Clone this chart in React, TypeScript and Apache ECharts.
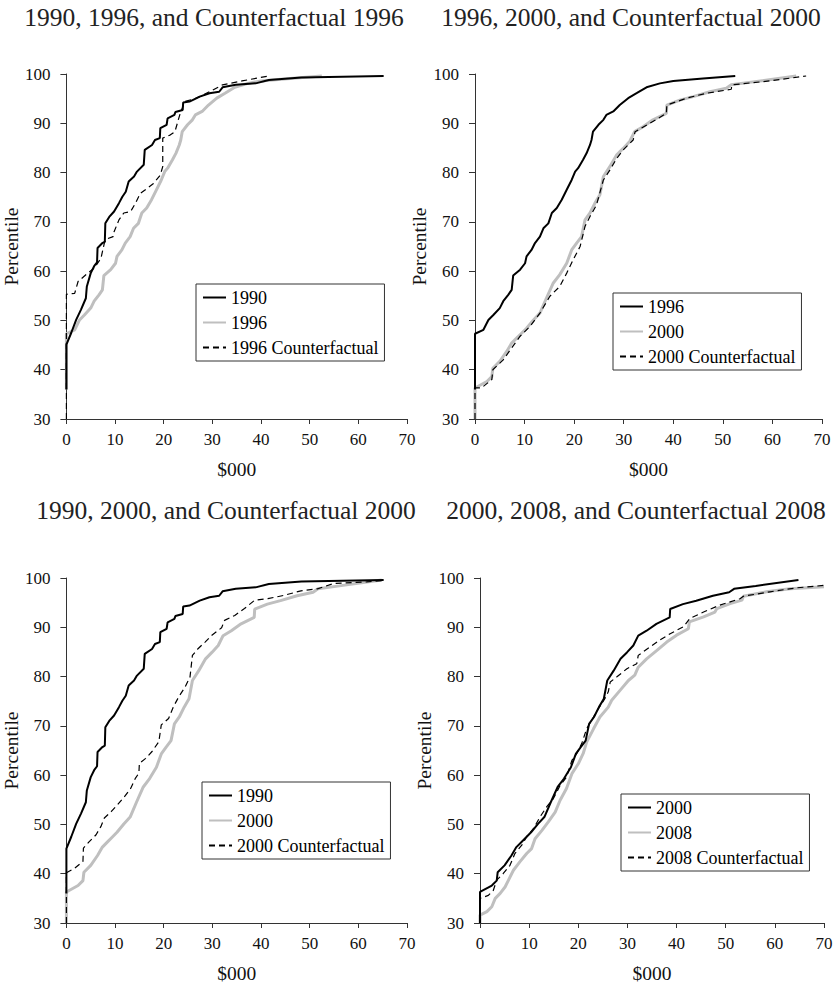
import React, { useEffect, useRef } from 'react';
import * as echarts from 'echarts';

const FONT = 'Liberation Serif';

const titles = [
  '1990, 1996, and Counterfactual 1996',
  '1996, 2000, and Counterfactual 2000',
  '1990, 2000, and Counterfactual 2000',
  '2000, 2008, and Counterfactual 2008',
];

const xTitle = '$000';
const yTitle = 'Percentile';

const y1990: number[][] = [[0,36],[0,45.1],[1,47.5],[2,50.1],[3,52.2],[4,54.5],[4.2,56.9],[5,59.6],[5.7,61],[6.3,61.8],[6.4,64.7],[7.4,65.7],[7.9,66],[8,69.7],[8.8,71],[9.8,72.1],[10.8,73.8],[11.5,75.1],[12.2,76.1],[12.8,78.2],[13.9,79.2],[14.5,80.2],[15.9,81.6],[16.1,84.6],[17.6,85.6],[18.2,86.6],[19.2,87],[19.3,89],[20.6,89.7],[20.8,91],[22.2,91.7],[22.4,92.3],[23.9,92.7],[24,94.2],[25.3,94.4],[27.4,95.4],[29.4,96.1],[31.4,96.4],[32.1,97.3],[34.8,97.8],[38.9,98.1],[41.6,98.8],[48.3,99.3],[65.2,99.6]];

const y1996: number[][] = [[0,36],[0,47.3],[1.7,48.1],[2.7,50.1],[3.7,51.1],[5,52.5],[5.7,53.9],[6.7,55.2],[7.4,56.2],[7.7,59.1],[9.1,60.3],[10.1,61.6],[10.4,63],[11.4,64.3],[12.1,65.7],[13.1,67],[13.8,68.7],[14.8,69.7],[15.5,71.8],[16.5,72.8],[17.5,74.5],[18.5,76.5],[19.5,78.5],[20.2,80.2],[20.8,80.9],[21.8,82.6],[22.5,83.9],[23.2,85.6],[23.5,86.6],[23.8,88.3],[24.9,89.7],[25.9,90.7],[26.5,91.7],[27.9,92.4],[29.2,93.7],[30.9,95.1],[32.6,96.1],[34.6,97.3],[37.3,98.1],[40,98.6],[46,99.1],[52.5,99.6]];

const y2000: number[][] = [[0,30],[0,36.3],[2.4,37.6],[3.4,38.6],[3.6,40.3],[5,41.7],[6.4,43.7],[7.4,45.4],[8.4,46.4],[9.4,47.4],[10.4,48.4],[11.8,50.1],[13.1,51.5],[14.4,54.5],[15.8,57.6],[17.1,59.3],[18.5,61.6],[19.5,64.3],[20.5,65.7],[21.5,67],[22.2,70.4],[23.2,71.8],[24.2,73.8],[25.2,75.5],[25.9,79.2],[27.2,81.2],[28.6,83.6],[29.9,84.9],[31.2,86.3],[32.2,88.3],[33.9,89.3],[35.9,90.7],[38.6,92],[38.7,93.7],[41.3,94.7],[44,95.4],[47.4,96.4],[50.7,97.1],[51.7,97.8],[56.1,98.4],[64.8,99.6]];

const y2008: number[][] = [[0,30],[0,31.6],[1.4,32.3],[2.4,33.3],[3.1,35],[4.1,36],[5.1,37.3],[5.8,38.7],[6.8,40.7],[8.1,42.4],[9.5,44.1],[10.5,45.1],[11.2,47.1],[12.6,48.8],[13.9,50.5],[15.3,52.5],[16.3,54.9],[17.6,57.3],[18.7,60.3],[20,62.3],[21,64.4],[21.7,66.7],[23.1,69.4],[24.4,71.8],[26.1,73.8],[26.8,75.2],[28.5,77.2],[30.2,79.2],[31.5,80.3],[32.2,81.9],[33.9,83.6],[36,85.3],[38,87],[40,88.4],[42.4,89.7],[42.6,91.1],[45.5,92.1],[47.8,93.1],[48.2,93.8],[50.9,94.8],[53.3,95.5],[53.6,96.3],[58.3,97.2],[63.1,97.8],[70,98.2]];

const cf1996: number[][] = [[0,30],[0,55.3],[1.7,55.5],[2.4,57.9],[4.4,59.6],[5.7,60.6],[7.1,62.6],[7.8,65.7],[8.2,66.5],[9.6,67],[9.8,68],[10.8,70.4],[11.8,71.8],[13.2,72.1],[14.2,73.8],[15.2,75.8],[16.6,76.8],[17.9,77.8],[19.3,79.5],[19.8,81.2],[19.8,87],[21.3,87.6],[22.3,88.3],[23.3,91.7],[24.3,94.4],[26.7,95.1],[29.4,96.4],[32.1,97.8],[36.1,98.6],[41.6,99.6]];

const cf2000a: number[][] = [[0,30],[0,36.3],[1.3,36.3],[3.4,38],[3.6,40],[5.7,42],[7.1,44],[9.1,46.8],[11.1,48.8],[13.1,51.5],[15.1,54.9],[17.1,56.9],[18.5,59.6],[19.8,62.3],[21.2,65],[22.2,69.1],[23.2,71.1],[24.5,73.4],[25.9,78.5],[27.2,80.5],[28.6,82.9],[29.9,84.6],[31.9,86.6],[32.3,88.3],[35.3,90],[38.6,92],[38.7,93.7],[42.7,95.1],[46.7,96.1],[51.7,96.9],[51.8,97.8],[59.5,98.6],[66.8,99.6]];

const cf2000b: number[][] = [[0,30],[0,40.2],[1.7,41.1],[3.4,42.5],[3.5,45.2],[4.7,46.5],[6.1,47.9],[7.1,49.6],[7.8,51.3],[9.2,52.6],[10.5,54],[11.9,55.6],[13.2,57.3],[14.2,59.4],[14.9,60.4],[15,62.4],[16.3,63.4],[17.6,64.8],[19,66.8],[19.5,70.2],[21,71.5],[22,73.9],[23.1,75.9],[24.4,77.9],[25.4,79.9],[25.9,84.3],[27.1,85.7],[28.5,87],[29.9,88.4],[31.9,89.9],[32.5,91.4],[34.6,92.4],[36.6,93.8],[38.7,95.5],[41.4,95.8],[44.8,96.5],[48.2,97.4],[51.6,97.8],[55,98.9],[61.7,99.2],[65.1,99.5]];

const cf2008: number[][] = [[0,30],[0,35],[1.7,35.6],[2.7,36.6],[3.4,38.7],[4.7,40],[6.1,41.7],[7.1,44.1],[8.5,45.8],[9.5,47.5],[10.9,49.2],[12.2,51.5],[13.6,53.6],[14.9,55.2],[16.3,57.9],[17.6,59.6],[18.7,63],[19.7,64.4],[20.7,66.4],[21.7,69.4],[22.7,71.1],[24.1,73.5],[25.4,75.5],[26.1,76.9],[26.5,78.9],[27.8,79.9],[29.9,81.6],[31.9,82.6],[32.2,84.3],[34.6,86],[36.6,87.4],[38.7,88.7],[41.4,90.1],[42.7,91.8],[45.5,93.1],[48.8,94.5],[52.9,95.8],[53.6,96.3],[59,97.2],[64.4,98],[70,98.5]];

type Kind = 'black' | 'gray' | 'dash';

const panels = [
  {
    title: titles[0], tx: 214, ty: 17,
    grid: { left: 62, top: 74, width: 345, height: 345 },
    legendPos: { left: 196, top: 284 },
    lines: [
      { label: '1990', data: y1990, kind: 'black' as Kind },
      { label: '1996', data: y1996, kind: 'gray' as Kind },
      { label: '1996 Counterfactual', data: cf1996, kind: 'dash' as Kind },
    ],
  },
  {
    title: titles[1], tx: 631, ty: 17,
    grid: { left: 475, top: 74, width: 347, height: 345 },
    legendPos: { left: 613, top: 293 },
    lines: [
      { label: '1996', data: y1996, kind: 'black' as Kind },
      { label: '2000', data: y2000, kind: 'gray' as Kind },
      { label: '2000 Counterfactual', data: cf2000a, kind: 'dash' as Kind },
    ],
  },
  {
    title: titles[2], tx: 226, ty: 510,
    grid: { left: 63, top: 578, width: 344, height: 345 },
    legendPos: { left: 202, top: 782 },
    lines: [
      { label: '1990', data: y1990, kind: 'black' as Kind },
      { label: '2000', data: y2000, kind: 'gray' as Kind },
      { label: '2000 Counterfactual', data: cf2000b, kind: 'dash' as Kind },
    ],
  },
  {
    title: titles[3], tx: 636, ty: 510,
    grid: { left: 480, top: 578, width: 344, height: 345 },
    legendPos: { left: 621, top: 794 },
    lines: [
      { label: '2000', data: y2000, kind: 'black' as Kind },
      { label: '2008', data: y2008, kind: 'gray' as Kind },
      { label: '2008 Counterfactual', data: cf2008, kind: 'dash' as Kind },
    ],
  },
];

const lineStyles: Record<Kind, any> = {
  black: { color: '#000000', width: 2, type: 'solid' },
  gray: { color: '#bfbfbf', width: 3, type: 'solid' },
  dash: { color: '#000000', width: 1.2, type: [6, 4] },
};
const zOrder: Record<Kind, number> = { gray: 2, black: 3, dash: 4 };

export default function App() {
  const ref = useRef<HTMLDivElement>(null);
  useEffect(() => {
    if (!ref.current) return;
    const chart = echarts.init(ref.current, null, { renderer: 'svg' });
    const axisColor = '#333333';
    const textColor = '#111111';

    const grids: any[] = [];
    const xAxes: any[] = [];
    const yAxes: any[] = [];
    const series: any[] = [];
    const legends: any[] = [];
    const graphics: any[] = [];

    panels.forEach((p, i) => {
      grids.push({ ...p.grid, containLabel: false });
      xAxes.push({
        gridIndex: i, type: 'value', min: 0, max: 70, interval: 10,
        axisLine: { show: true, lineStyle: { color: axisColor, width: 1 } },
        axisTick: { show: true, length: 5, lineStyle: { color: axisColor } },
        axisLabel: { fontFamily: FONT, fontSize: 17, color: textColor, margin: 12 },
        splitLine: { show: false },
        name: xTitle, nameLocation: 'middle', nameGap: 40,
        nameTextStyle: { fontFamily: FONT, fontSize: 19.5, color: textColor },
      });
      yAxes.push({
        gridIndex: i, type: 'value', min: 30, max: 100, interval: 10,
        axisLine: { show: true, lineStyle: { color: axisColor, width: 1 } },
        axisTick: { show: true, length: 6, lineStyle: { color: axisColor } },
        axisLabel: { fontFamily: FONT, fontSize: 17, color: textColor, margin: 16 },
        splitLine: { show: false },
        name: yTitle, nameLocation: 'middle', nameGap: 42,
        nameTextStyle: { fontFamily: FONT, fontSize: 19.5, color: textColor },
      });
      const names: string[] = [];
      p.lines.forEach((l) => {
        const name = `p${i}|${l.label}`;
        names.push(name);
        series.push({
          type: 'line', name, xAxisIndex: i, yAxisIndex: i,
          data: l.data, symbol: 'none', showSymbol: false, silent: true,
          lineStyle: lineStyles[l.kind], itemStyle: { color: lineStyles[l.kind].color },
          z: zOrder[l.kind],
        });
      });
      legends.push({
        data: names, orient: 'vertical', left: p.legendPos.left, top: p.legendPos.top,
        padding: [1, 6, 1, 6], itemGap: 0, itemWidth: 23, itemHeight: 14,
        borderColor: '#333333', borderWidth: 1, backgroundColor: '#ffffff',
        selectedMode: false,
        itemStyle: { opacity: 0, borderWidth: 0 },
        formatter: (n: string) => n.split('|')[1],
        textStyle: { fontFamily: FONT, fontSize: 18, color: '#000000', lineHeight: 25 },
      });
      graphics.push({
        type: 'text', x: p.tx, y: p.ty,
        style: {
          text: p.title, fontFamily: FONT, fontSize: 25.5, fill: '#222222',
          align: 'center', verticalAlign: 'middle',
        },
      });
    });

    chart.setOption({
      animation: false,
      backgroundColor: '#ffffff',
      textStyle: { fontFamily: FONT },
      grid: grids, xAxis: xAxes, yAxis: yAxes, series, legend: legends,
      graphic: graphics,
    });
    return () => chart.dispose();
  }, []);
  return (
    <div
      ref={ref}
      style={{ position: 'absolute', left: 0, top: 0, width: 836, height: 987, background: '#fff' }}
    />
  );
}
